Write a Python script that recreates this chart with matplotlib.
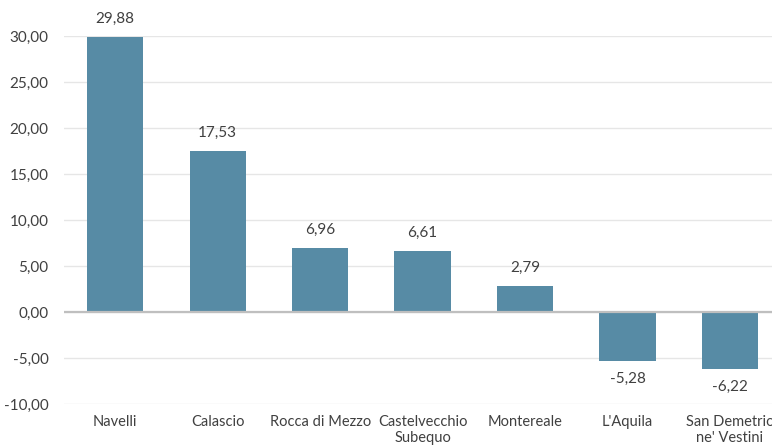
import matplotlib
matplotlib.use("Agg")
import matplotlib.pyplot as plt

categories = ["Navelli", "Calascio", "Rocca di Mezzo", "Castelvecchio\nSubequo",
              "Montereale", "L'Aquila", "San Demetrio\nne' Vestini"]
values = [29.88, 17.53, 6.96, 6.61, 2.79, -5.28, -6.22]
yticks = [-10, -5, 0, 5, 10, 15, 20, 25, 30]

plt.rcParams['font.family'] = ['Lato', 'DejaVu Sans']
txt = '#404040'

fig = plt.figure(figsize=(7.72, 4.48), dpi=100)
ax = fig.add_axes([64/772, 44/448, 708/772, 368/448])
x = list(range(len(categories)))
ax.bar(x, values, width=0.55, color='#578BA5', zorder=3)
ax.set_xlim(-0.5, 6.41)
ax.set_ylim(-10, 30)
ax.set_yticks(yticks)
ax.set_yticklabels([f"{v:.2f}".replace('.', ',') for v in yticks], fontsize=11, color=txt)
ax.grid(axis='y', color='#E6E6E6', linewidth=1, zorder=0)
ax.axhline(0, color='#BFBFBF', linewidth=1.6, zorder=4)
for s in ax.spines.values():
    s.set_visible(False)
ax.tick_params(axis='y', length=0, pad=11)
ax.tick_params(axis='x', length=0, pad=8)
ax.set_xticks(x)
ax.set_xticklabels(categories, fontsize=10.5, color=txt, linespacing=1.2, va='top')
for xi, v in zip(x, values):
    lab = f"{v:.2f}".replace('.', ',')
    if v >= 0:
        ax.annotate(lab, (xi, v), xytext=(0, 8), textcoords='offset points',
                    ha='center', va='bottom', fontsize=11, color=txt)
    else:
        ax.annotate(lab, (xi, v), xytext=(0, -8), textcoords='offset points',
                    ha='center', va='top', fontsize=11, color=txt)
fig.savefig("out.png", dpi=100)
